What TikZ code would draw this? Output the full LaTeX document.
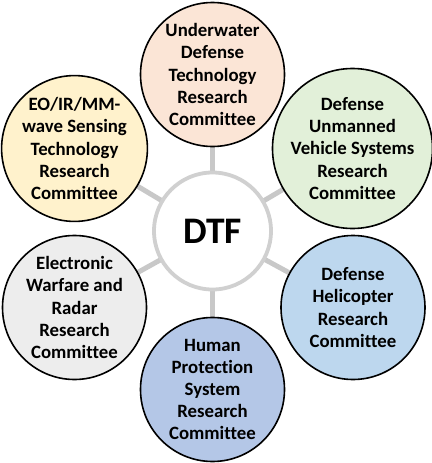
\documentclass[tikz,border=0pt]{standalone}
\usepackage{fontspec}
\setmainfont{Carlito}[Ligatures=NoCommon]
\usetikzlibrary{backgrounds}
\definecolor{cpeach}{HTML}{FBE5D6}
\definecolor{cgreen}{HTML}{E2F0D9}
\definecolor{cblue}{HTML}{BDD7EE}
\definecolor{cblue2}{HTML}{B4C7E7}
\definecolor{cgray}{HTML}{EDEDED}
\definecolor{cyellow}{HTML}{FFF2CC}
\definecolor{hubgray}{HTML}{D0D0D0}
\definecolor{spokegray}{HTML}{C8C8C8}
\begin{document}
\begin{tikzpicture}[x=1pt,y=-1pt,
  committee/.style={circle, draw=black, line width=1.6pt, minimum size=144pt, inner sep=0pt, align=center, font=\bfseries\fontsize{18.8}{22.2}\selectfont},
  hub/.style={circle, draw=hubgray, line width=3.8pt, fill=white, minimum size=117pt, inner sep=0pt, font=\bfseries\fontsize{37.5}{40}\selectfont},
  spoke/.style={draw=spokegray, line width=5pt}]
\useasboundingbox (0,0) rectangle (431,463);
\node[hub] (dtf) at (212.5,231) {DTF};
\node[committee, fill=cpeach] (uw) at (212.5,74.5) {Underwater\\Defense\\Technology\\Research\\Committee};
\node[committee, fill=cgreen] (uv) at (352.5,148.5) {Defense\\Unmanned\\Vehicle Systems\\Research\\Committee};
\node[committee, fill=cblue] (heli) at (353,307.5) {Defense\\Helicopter\\Research\\Committee};
\node[committee, fill=cblue2] (hp) at (212.5,389.5) {Human\\Protection\\System\\Research\\Committee};
\node[committee, fill=cgray] (ew) at (74.5,307.5) {Electronic\\Warfare and\\Radar\\Research\\Committee};
\node[committee, fill=cyellow] (eo) at (74.5,148.5) {EO/IR/MM-\\wave Sensing\\Technology\\Research\\Committee};
\begin{scope}[on background layer]
\foreach \n in {uw,uv,heli,hp,ew,eo} \draw[spoke] (dtf.center) -- (\n.center);
\end{scope}
\end{tikzpicture}
\end{document}
